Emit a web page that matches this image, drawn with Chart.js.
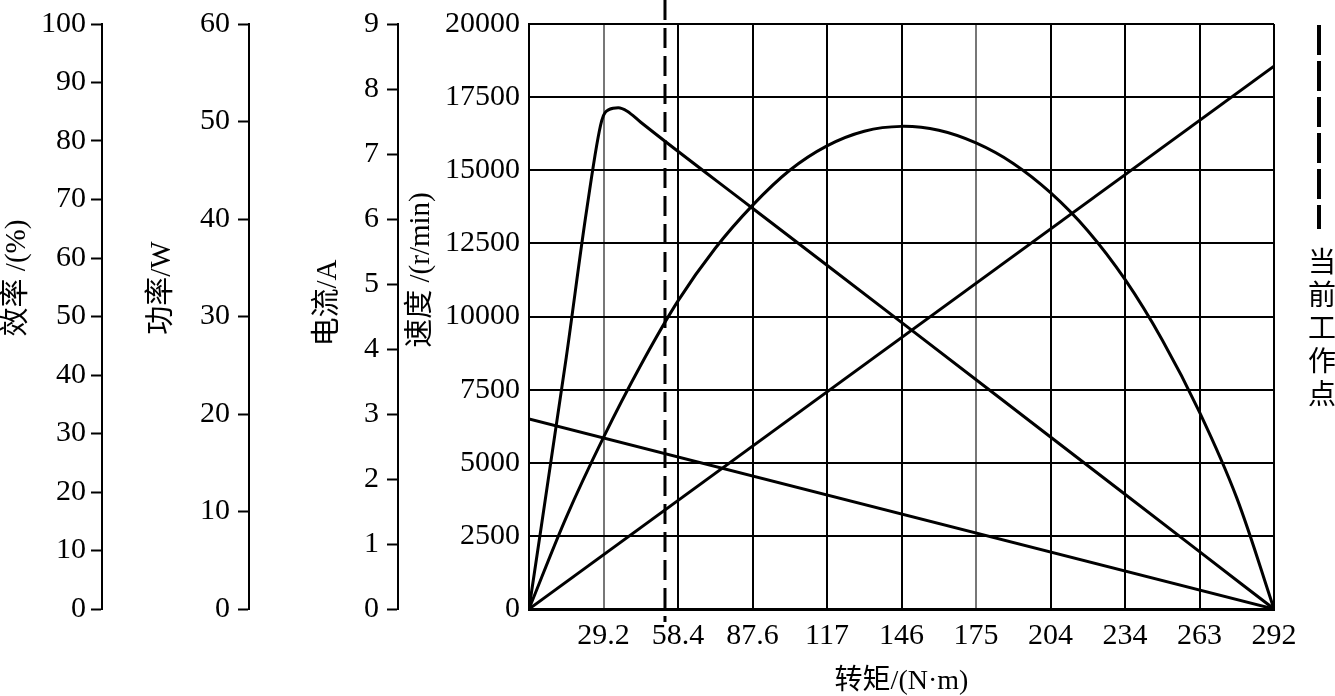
<!DOCTYPE html>
<html>
<head>
<meta charset="utf-8">
<script src="https://cdn.jsdelivr.net/npm/chart.js@4.4.1/dist/chart.umd.min.js"></script>
<style>
  html, body { margin: 0; padding: 0; background: #fff; }
  #wrap { width: 1335px; height: 696px; }
</style>
</head>
<body>
<div id="wrap"><canvas id="motorChart" width="1335" height="696"></canvas></div>
<script>
// torque axis
const xTickValues = [0, 29.2, 58.4, 87.6, 116.8, 146, 175.2, 204.4, 233.6, 262.8, 292];
const xTickLabels = ['', '29.2', '58.4', '87.6', '117', '146', '175', '204', '234', '263', '292'];

// efficiency (%)
const effTorque = [0, 14.6, 22.7, 28.5, 31.5, 35, 38.5, 43.8, 87.6, 146, 204.4, 262.8, 292];
const effValues = [0, 43, 68.5, 83.5, 85.4, 85.7, 85.1, 83.2, 68.5, 49, 29.4, 9.8, 0];

// output power (W)
const powTorque = [0, 14.6, 29.2, 43.8, 58.4, 73, 87.6, 102.2, 116.8, 131.4, 146, 160.6, 175.2, 189.8, 204.4, 219, 233.6, 248.2, 262.8, 277.4, 292];
const powValues = [0, 9.4, 17.6, 25, 31.6, 37, 41.4, 45, 47.5, 49, 49.5, 49.1, 47.8, 45.7, 42.7, 38.8, 33.8, 27.6, 20.2, 11.4, 0];

// current (A)
const curTorque = [0, 292];
const curValues = [0, 8.35];

// speed (r/min)
const spdTorque = [0, 292];
const spdValues = [6500, 0];

// current working point (torque)
const workTorque = 53.3;
const workLabel = ['当', '前', '工', '作', '点'];

const black = '#000';
const serif = "'Liberation Serif', 'Noto Sans CJK SC', serif";
const tickFont = { family: serif, size: 30, lineHeight: 1 };

const toPoints = (xs, ys) => xs.map((x, i) => ({ x: x, y: ys[i] }));

function sideAxis(weight, width, max, step, padding) {
    return {
        type: 'linear',
        position: 'left',
        weight: weight,
        min: 0,
        max: max,
        ticks: { stepSize: step, color: black, font: tickFont, padding: padding, callback: v => String(v) },
        grid: { drawOnChartArea: false, drawTicks: true, tickLength: 11, tickWidth: 2, tickColor: black },
        border: { display: true, color: black, width: 2 },
        afterFit: s => { s.width = width; }
    };
}

const axisTitles = [
    { id: 'yEff', text: '效率 /(%)', dx: 17, y: 278 },
    { id: 'yPow', text: '功率/W', dx: 60, y: 288 },
    { id: 'yCur', text: '电流/A', dx: 79, y: 303 },
    { id: 'ySpd', text: '速度 /(r/min)', dx: 23, y: 270 }
];

const titlePlugin = {
    id: 'axisTitles',
    afterDraw(chart) {
        const ctx = chart.ctx;
        ctx.save();
        ctx.fillStyle = black;
        ctx.font = '29px ' + serif;
        ctx.textAlign = 'center';
        ctx.textBaseline = 'middle';
        axisTitles.forEach(t => {
            const s = chart.scales[t.id];
            ctx.save();
            ctx.translate(s.left + t.dx, t.y);
            ctx.rotate(-Math.PI / 2);
            ctx.fillText(t.text, 0, 0);
            ctx.restore();
        });
        ctx.restore();
    }
};

const workPointPlugin = {
    id: 'workPoint',
    afterDatasetsDraw(chart) {
        const ctx = chart.ctx;
        const area = chart.chartArea;
        const x = chart.scales.x.getPixelForValue(workTorque);
        ctx.save();
        ctx.strokeStyle = black;
        ctx.lineWidth = 3;
        ctx.setLineDash([20, 8]);
        ctx.beginPath();
        ctx.moveTo(x, 0);
        ctx.lineTo(x, area.bottom + 13);
        ctx.stroke();

        // legend on the right
        const lx = area.right + 45;
        ctx.lineWidth = 4;
        ctx.setLineDash([30, 6]);
        ctx.beginPath();
        ctx.moveTo(lx, area.top + 1);
        ctx.lineTo(lx, area.top + 205);
        ctx.stroke();
        ctx.setLineDash([]);
        ctx.fillStyle = black;
        ctx.font = "28px 'Noto Sans CJK SC', sans-serif";
        ctx.textAlign = 'center';
        ctx.textBaseline = 'middle';
        workLabel.forEach((ch, i) => ctx.fillText(ch, lx + 3, area.top + 237 + i * 33));
        ctx.restore();
    }
};

const ctx = document.getElementById('motorChart').getContext('2d');
new Chart(ctx, {
    type: 'line',
    data: {
        datasets: [
            { label: '效率', data: toPoints(effTorque, effValues), yAxisID: 'yEff', cubicInterpolationMode: 'monotone' },
            { label: '功率', data: toPoints(powTorque, powValues), yAxisID: 'yPow', tension: 0.35 },
            { label: '电流', data: toPoints(curTorque, curValues), yAxisID: 'yCur' },
            { label: '速度', data: toPoints(spdTorque, spdValues), yAxisID: 'ySpd' }
        ].map(d => Object.assign({ borderColor: black, borderWidth: 3, pointRadius: 0, fill: false }, d))
    },
    options: {
        responsive: false,
        animation: false,
        devicePixelRatio: 1,
        layout: { padding: { left: 0, right: 61, top: 21, bottom: 0 } },
        plugins: { legend: { display: false }, tooltip: { enabled: false } },
        scales: {
            x: {
                type: 'linear',
                min: 0,
                max: 292,
                afterBuildTicks: s => { s.ticks = xTickValues.map(v => ({ value: v })); },
                ticks: { color: black, font: tickFont, padding: 12, maxRotation: 0, autoSkip: false, callback: (v, i) => xTickLabels[i] },
                grid: { color: c => (c.index === 1 || c.index === 6) ? '#777' : black, lineWidth: 2, drawTicks: false },
                border: { color: black, width: 3 },
                title: { display: true, text: '转矩/(N·m)', color: black, font: { family: serif, size: 28, lineHeight: 1 }, padding: { top: 0, bottom: 0 } },
                afterFit: s => { s.height = 87; }
            },
            ySpd: {
                type: 'linear',
                position: 'left',
                weight: 0,
                min: 0,
                max: 20000,
                ticks: { stepSize: 2500, color: black, font: tickFont, padding: 9, callback: v => String(v) },
                grid: { color: black, lineWidth: 2, drawTicks: false },
                border: { color: black, width: 2 },
                afterFit: s => { s.width = 131; }
            },
            yCur: sideAxis(1, 149, 9, 1, 8),
            yPow: sideAxis(2, 147, 60, 10, 8),
            yEff: sideAxis(3, 102, 100, 10, 5)
        }
    },
    plugins: [titlePlugin, workPointPlugin]
});
</script>
</body>
</html>
